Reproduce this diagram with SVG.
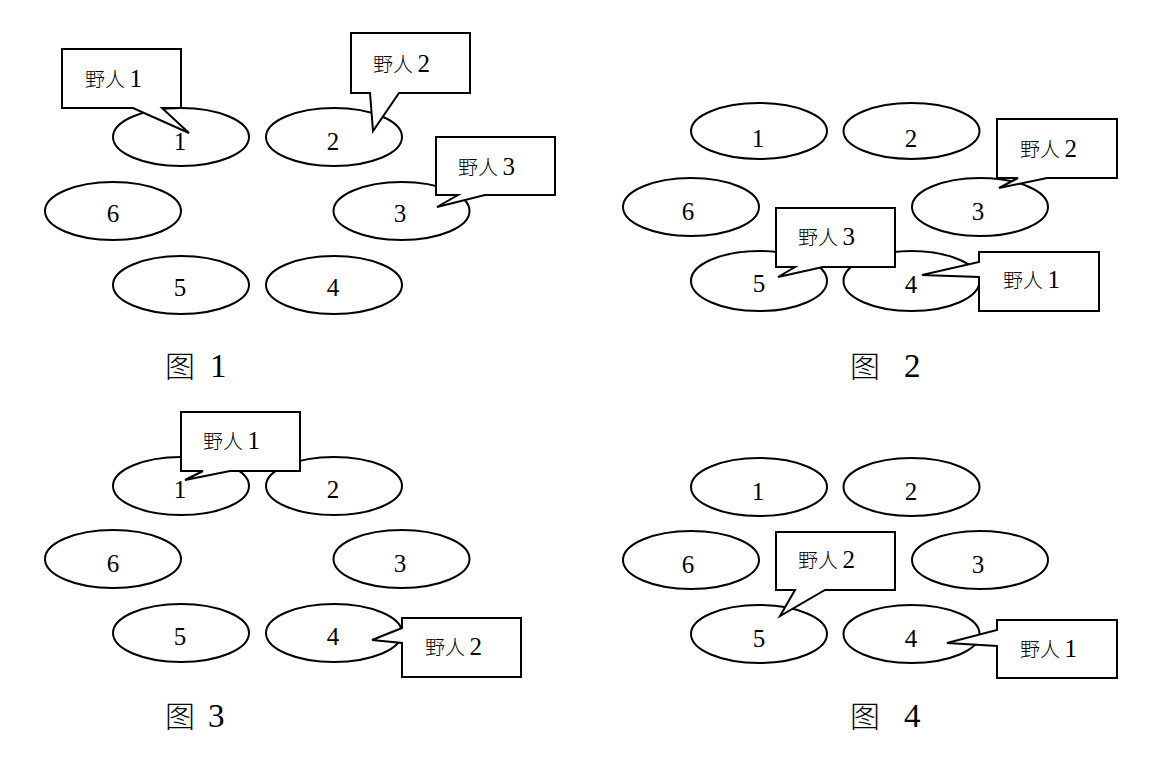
<svg xmlns="http://www.w3.org/2000/svg" width="1169" height="767" viewBox="0 0 1169 767">
<style>
.e{fill:#fff;stroke:#000;stroke-width:2}
.c{fill:#fff;stroke:#000;stroke-width:2;stroke-linejoin:miter}
.d{font-family:"Liberation Serif","Times New Roman",serif;font-size:25px;text-anchor:middle;fill:#000}
.t{font-family:"Noto Sans CJK SC","Noto Sans CJK JP",sans-serif;font-size:20px;fill:#000;font-weight:300}
.n{font-family:"Liberation Serif",serif;font-size:25px;font-weight:normal}
.cap{font-family:"Noto Sans CJK SC",sans-serif;font-size:30px;fill:#000;font-weight:300}
.capn{font-family:"Liberation Serif",serif;font-size:33px;font-weight:normal}
</style>
<rect width="1169" height="767" fill="#fff"/>

<g id="panel1">
  <g id="p1-n1"><ellipse class="e" cx="181" cy="137" rx="68" ry="29"/><text class="d" x="180" y="150">1</text></g>
  <g id="p1-n2"><ellipse class="e" cx="334" cy="137" rx="68" ry="29"/><text class="d" x="333" y="150">2</text></g>
  <g id="p1-n3"><ellipse class="e" cx="401.5" cy="211" rx="68" ry="29"/><text class="d" x="400" y="222">3</text></g>
  <g id="p1-n4"><ellipse class="e" cx="334" cy="285" rx="68" ry="29"/><text class="d" x="333" y="296">4</text></g>
  <g id="p1-n5"><ellipse class="e" cx="181" cy="285" rx="68" ry="29"/><text class="d" x="180" y="296">5</text></g>
  <g id="p1-n6"><ellipse class="e" cx="113" cy="211" rx="68" ry="29"/><text class="d" x="113" y="222">6</text></g>
  <g id="p1-s1"><path class="c" d="M62,49 H181 V108 H162 L189,133 L133,108 H62 Z"/><text class="t" x="85" y="87">野人 <tspan class="n">1</tspan></text></g>
  <g id="p1-s2"><path class="c" d="M351,33 H470 V93 H399 L373,131 L370,93 H351 Z"/><text class="t" x="373" y="72">野人 <tspan class="n">2</tspan></text></g>
  <g id="p1-s3"><path class="c" d="M436,137 H555 V195 H485 L437,207 L458,195 H436 Z"/><text class="t" x="458" y="175">野人 <tspan class="n">3</tspan></text></g>
  <text id="cap1" class="cap" x="165" y="377">图<tspan class="capn" x="210">1</tspan></text>
</g>

<g id="panel2">
  <g id="p2-n1"><ellipse class="e" cx="759" cy="131" rx="68" ry="28"/><text class="d" x="758" y="147">1</text></g>
  <g id="p2-n2"><ellipse class="e" cx="911.5" cy="131" rx="68" ry="28"/><text class="d" x="911" y="147">2</text></g>
  <g id="p2-n3"><ellipse class="e" cx="980" cy="207" rx="68" ry="29"/><text class="d" x="978" y="220">3</text></g>
  <g id="p2-n6"><ellipse class="e" cx="691" cy="207" rx="68" ry="29"/><text class="d" x="688" y="220">6</text></g>
  <g id="p2-n5"><ellipse class="e" cx="759" cy="281" rx="68" ry="30"/><text class="d" x="759" y="292">5</text></g>
  <g id="p2-n4"><ellipse class="e" cx="911.5" cy="281" rx="68" ry="30"/><text class="d" x="911" y="293">4</text></g>
  <g id="p2-s2"><path class="c" d="M997,119 H1117 V178 H1047 L999,188 L1018,178 H997 Z"/><text class="t" x="1020" y="157">野人 <tspan class="n">2</tspan></text></g>
  <g id="p2-s3"><path class="c" d="M776,208 H895 V267 H823 L778,277 L795,267 H776 Z"/><text class="t" x="798" y="245">野人 <tspan class="n">3</tspan></text></g>
  <g id="p2-s1"><path class="c" d="M979,252 H1099 V311 H979 V277 L922,275 L979,262 Z"/><text class="t" x="1003" y="288">野人 <tspan class="n">1</tspan></text></g>
  <text id="cap2" class="cap" x="850" y="377">图<tspan class="capn" x="904">2</tspan></text>
</g>

<g id="panel3">
  <g id="p3-n1"><ellipse class="e" cx="181" cy="486" rx="68" ry="29"/><text class="d" x="180" y="498">1</text></g>
  <g id="p3-n2"><ellipse class="e" cx="334" cy="486" rx="68" ry="29"/><text class="d" x="333" y="498">2</text></g>
  <g id="p3-n3"><ellipse class="e" cx="401.5" cy="559" rx="68" ry="29"/><text class="d" x="400" y="572">3</text></g>
  <g id="p3-n4"><ellipse class="e" cx="334" cy="633" rx="68" ry="29"/><text class="d" x="333" y="645">4</text></g>
  <g id="p3-n5"><ellipse class="e" cx="181" cy="633" rx="68" ry="29"/><text class="d" x="180" y="645">5</text></g>
  <g id="p3-n6"><ellipse class="e" cx="113" cy="559" rx="68" ry="29"/><text class="d" x="113" y="572">6</text></g>
  <g id="p3-s1"><path class="c" d="M181,412 H300 V471 H230 L185,480 L203,471 H181 Z"/><text class="t" x="203" y="449">野人 <tspan class="n">1</tspan></text></g>
  <g id="p3-s2"><path class="c" d="M402,618 H521 V677 H402 V643 L372,640 L402,628 Z"/><text class="t" x="425" y="655">野人 <tspan class="n">2</tspan></text></g>
  <text id="cap3" class="cap" x="165" y="727">图<tspan class="capn" x="208">3</tspan></text>
</g>

<g id="panel4">
  <g id="p4-n1"><ellipse class="e" cx="759" cy="487" rx="68" ry="29"/><text class="d" x="758" y="500">1</text></g>
  <g id="p4-n2"><ellipse class="e" cx="911.5" cy="487" rx="68" ry="29"/><text class="d" x="911" y="500">2</text></g>
  <g id="p4-n3"><ellipse class="e" cx="980" cy="560" rx="68" ry="29"/><text class="d" x="978" y="573">3</text></g>
  <g id="p4-n6"><ellipse class="e" cx="691" cy="560" rx="68" ry="29"/><text class="d" x="688" y="573">6</text></g>
  <g id="p4-n5"><ellipse class="e" cx="759" cy="634" rx="68" ry="29"/><text class="d" x="759" y="647">5</text></g>
  <g id="p4-n4"><ellipse class="e" cx="911.5" cy="634" rx="68" ry="29"/><text class="d" x="911" y="647">4</text></g>
  <g id="p4-s2"><path class="c" d="M776,532 H895 V590 H825 L780,616 L795,590 H776 Z"/><text class="t" x="798" y="568">野人 <tspan class="n">2</tspan></text></g>
  <g id="p4-s1"><path class="c" d="M997,620 H1117 V678 H997 V646 L947,643 L997,630 Z"/><text class="t" x="1020" y="657">野人 <tspan class="n">1</tspan></text></g>
  <text id="cap4" class="cap" x="850" y="727">图<tspan class="capn" x="904">4</tspan></text>
</g>
</svg>
